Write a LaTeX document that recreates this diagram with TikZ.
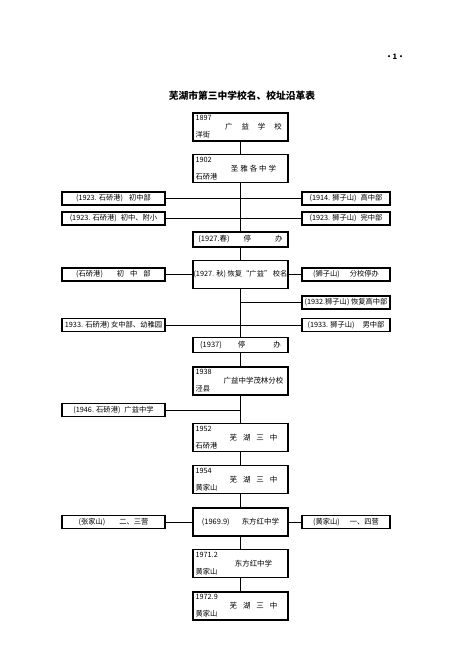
\documentclass[tikz,border=0pt]{standalone}
\usepackage{fontspec}
\setmainfont{Noto Sans CJK SC}
\usetikzlibrary{positioning}

\tikzset{
  mainbox/.style={draw, line width=1.2bp, minimum width=95bp, minimum height=28bp, inner sep=0pt},
  thinbox/.style={mainbox, minimum height=15bp, font=\fontsize{7.5}{8}\selectfont},
  leftbox/.style={draw, line width=1.2bp, minimum width=103bp, minimum height=13bp, inner sep=1bp, font=\fontsize{7.3}{8}\selectfont},
  rightbox/.style={leftbox, minimum width=88bp},
  yeartext/.style={inner sep=0pt, font=\fontsize{7.3}{8}\selectfont},
  nametext/.style={inner sep=0pt, font=\fontsize{7.5}{8}\selectfont},
  trunk/.style={line width=1bp},
}
% one stage of the school: name, y, year, place, school name
\newcommand{\stagebox}[5]{%
  \node[mainbox] (#1) at (240.5,#2) {};
  \node[yeartext, anchor=north west] (#1-year) at ([shift={(3bp,-3bp)}]#1.north west) {#3};
  \node[yeartext, anchor=south west] (#1-place) at ([shift={(3bp,3bp)}]#1.south west) {#4};
  \node[nametext] (#1-name) at ([xshift=13bp]#1.center) {#5};
}

\begin{document}
\begin{tikzpicture}[x=1bp, y=-1bp]
  \useasboundingbox (0,0) rectangle (450,657);

  \node[inner sep=0pt, font=\fontsize{7.5}{8}\bfseries] (pageno) at (395,57) {·1·};
  \node[inner sep=0pt, font=\fontsize{9.8}{11}\bfseries] (title) at (242,96) {芜湖市第三中学校名、校址沿革表};

  % main column
  \stagebox{s1897}{127}{1897}{洋街}{广\hspace{9bp}益\hspace{9bp}学\hspace{9bp}校}
  \stagebox{s1902}{168.5}{1902}{石硚港}{圣\hspace{2bp}雅\hspace{2bp}各\hspace{2bp}中\hspace{2bp}学}
  \node[thinbox] (s1927a) at (240.5,239.5) {(1927.春)\hspace{14bp}停\hspace{24bp}办};
  \node[mainbox, font=\fontsize{7.3}{8}\selectfont] (s1927b) at (240.5,274.5) {(1927. 秋) 恢复“广益” 校名};
  \node[thinbox] (s1937) at (240.5,345) {(1937)\hspace{16bp}停\hspace{28bp}办};
  \stagebox{s1938}{381}{1938}{泾县}{广益中学茂林分校}
  \stagebox{s1952}{437.5}{1952}{石硚港}{芜\hspace{6bp}湖\hspace{6bp}三\hspace{6bp}中}
  \stagebox{s1954}{479.5}{1954}{黄家山}{芜\hspace{6bp}湖\hspace{6bp}三\hspace{6bp}中}
  \node[mainbox, font=\fontsize{7.5}{8}\selectfont] (s1969) at (240.5,522) {(1969.9)\hspace{12bp}东方红中学};
  \stagebox{s1971}{563.5}{1971.2}{黄家山}{东方红中学}
  \stagebox{s1972}{606}{1972.9}{黄家山}{芜\hspace{6bp}湖\hspace{6bp}三\hspace{6bp}中}

  % side branches
  \node[leftbox] (la) at (113.5,198.5) {(1923. 石硚港)\hspace{6bp}初中部\hspace{8bp}};
  \node[rightbox] (ra) at (346,198.5) {(1914. 狮子山)\hspace{4bp}高中部};
  \node[leftbox] (lb) at (113.5,218.5) {(1923. 石硚港)\hspace{4bp}初中、附小};
  \node[rightbox] (rb) at (346,218.5) {(1923. 狮子山)\hspace{4bp}完中部};
  \node[leftbox] (lc) at (113.5,274.5) {(石硚港)\hspace{14bp}初\hspace{6bp}中\hspace{6bp}部};
  \node[rightbox] (rc) at (346,274.5) {(狮子山)\hspace{10bp}分校停办};
  \node[rightbox] (rd) at (346,302.5) {(1932.狮子山) 恢复高中部};
  \node[leftbox] (le) at (113.5,325) {1933. 石硚港) 女中部、幼稚园};
  \node[rightbox] (re) at (346,325) {(1933. 狮子山)\hspace{8bp}男中部};
  \node[leftbox] (lf) at (113.5,410) {(1946. 石硚港)\hspace{4bp}广益中学\hspace{8bp}};
  \node[leftbox] (lg) at (113.5,522) {(张家山)\hspace{14bp}二、三营\hspace{6bp}};
  \node[rightbox] (rg) at (346,522) {(黄家山)\hspace{10bp}一、四营};

  \coordinate (jd) at (240.5,302.5);
  \coordinate (jf) at (240.5,410);

  \draw[trunk] (s1897) -- (s1902);
  \draw[trunk] (s1902) -- (s1927a);
  \draw[trunk] (s1927a) -- (s1927b);
  \draw[trunk] (s1927b) -- (s1937);
  \draw[trunk] (s1937) -- (s1938);
  \draw[trunk] (s1938) -- (s1952);
  \draw[trunk] (s1952) -- (s1954);
  \draw[trunk] (s1954) -- (s1969);
  \draw[trunk] (s1969) -- (s1971);
  \draw[trunk] (s1971) -- (s1972);

  \draw[trunk] (la) -- (ra);
  \draw[trunk] (lb) -- (rb);
  \draw[trunk] (lc) -- (s1927b);
  \draw[trunk] (s1927b) -- (rc);
  \draw[trunk] (jd) -- (rd);
  \draw[trunk] (le) -- (re);
  \draw[trunk] (lf) -- (jf);
  \draw[trunk] (lg) -- (s1969);
  \draw[trunk] (s1969) -- (rg);
\end{tikzpicture}
\end{document}
